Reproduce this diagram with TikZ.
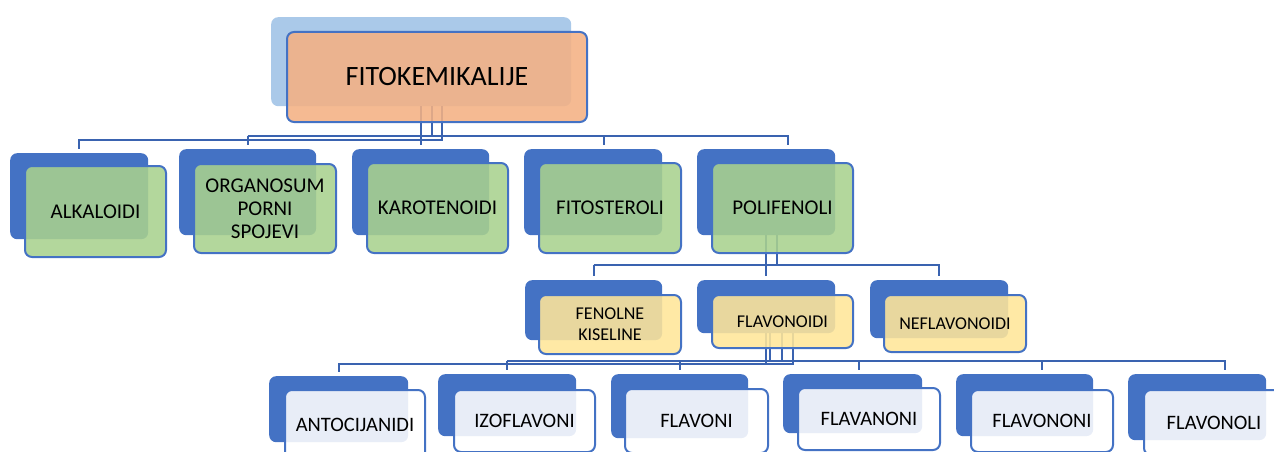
\documentclass[tikz,border=0pt]{standalone}
\usepackage{fontspec}
\setmainfont{Carlito}

\definecolor{fitoblue}{RGB}{68,114,196}
\definecolor{fitolink}{RGB}{58,99,176}
\definecolor{fitosky}{RGB}{170,201,233}
\definecolor{fitoorange}{RGB}{244,177,131}
\definecolor{fitogreen}{RGB}{169,209,142}
\definecolor{fitoyellow}{RGB}{255,230,153}

\newcommand\fitotopstyle{\fontsize{28}{34}\selectfont}
\newcommand\fitoonestyle{\fontsize{21}{23}\selectfont}
\newcommand\fitotwostyle{\fontsize{18}{21}\selectfont}
\newcommand\fitothreestyle{\fontsize{20.5}{24}\selectfont}

\newcommand\fitoback[4]{
  \node[backbox, minimum width=#3pt, minimum height=#4pt] (#1-b) at (#2) {} ;
}
\newcommand\fitofront[6]{
  \node[#5, minimum width=#3pt, minimum height=#4pt] (#1) at (#2) {#6} ;
}

\tikzset{
  backbox/.style={fill=fitoblue, rounded corners=7pt, anchor=north west, inner sep=0pt},
  frontbox/.style={draw=fitoblue, line width=2pt, rounded corners=7pt, anchor=north west,
    inner sep=0pt, align=center, fill opacity=0.88, text opacity=1},
  leveltop/.style={frontbox, fill=fitoorange, font=\fitotopstyle},
  levelone/.style={frontbox, fill=fitogreen, font=\fitoonestyle},
  leveltwo/.style={frontbox, fill=fitoyellow, font=\fitotwostyle},
  levelthree/.style={frontbox, fill=white, font=\fitothreestyle},
  link/.style={draw=fitolink, line width=2pt},
  drop/.style={link, shorten >=4pt},
}

\begin{document}
\begin{tikzpicture}[x=1pt, y=1pt]
    \useasboundingbox (0,0) rectangle (1274,-452) ;
    \node[backbox, fill=fitosky, minimum width=300pt, minimum height=89pt] (fito-b) at (271,-17) {} ;
    \fitoback{alk}{10,-153}{138}{86}
    \fitoback{org}{179,-149}{137}{86}
    \fitoback{kar}{352,-149}{137}{86}
    \fitoback{fit}{524,-149}{138}{86}
    \fitoback{pol}{697,-149}{138}{86}
    \fitoback{fen}{525,-280}{137}{60}
    \fitoback{flv}{697,-280}{138}{53}
    \fitoback{nef}{870,-280}{138}{58}
    \fitoback{ant}{269,-376}{139}{66}
    \fitoback{izo}{438,-374}{138}{62}
    \fitoback{fla}{611,-374}{137}{64}
    \fitoback{fln}{783,-374}{139}{59}
    \fitoback{flo}{956,-374}{137}{62}
    \fitoback{fll}{1128,-374}{138}{66}

    \coordinate (bushigh) at (0,-136) ;
    \coordinate (buslow) at (0,-140) ;
    \draw[drop] (fito-b.south) -- (fito-b.south |- kar-b.north) ;
    \draw[drop] ([xshift=21pt]fito-b.south) |- (buslow -| alk-b.north) -- (alk-b.north) ;
    \draw[link] ([xshift=11pt]fito-b.south) -- ([xshift=11pt]fito-b.south |- bushigh) ;
    \draw[drop] (bushigh -| org-b.north) -- (org-b.north) ;
    \draw[drop] (bushigh -| org-b.north) -- ([xshift=22pt]bushigh -| pol-b.north) -- ([xshift=22pt]pol-b.north) ;
    \draw[drop] ([xshift=11pt]bushigh -| fit-b.north) -- ([xshift=11pt]fit-b.north) ;

    \coordinate (busmid) at (0,-265) ;
    \draw[drop] (pol-b.south) -- (pol-b.south |- flv-b.north) ;
    \draw[link] ([xshift=11pt]pol-b.south) -- ([xshift=11pt]pol-b.south |- busmid) ;
    \draw[drop] (busmid -| fen-b.north) -- (fen-b.north) ;
    \draw[drop] (busmid -| fen-b.north) -- (busmid -| nef-b.north) -- (nef-b.north) ;

    \coordinate (busupper) at (0,-361) ;
    \coordinate (buslower) at (0,-364) ;
    \draw[link] (flv-b.south) -- (flv-b.south |- buslower) ;
    \draw[link] ([xshift=4pt]flv-b.south) -- ([xshift=4pt]flv-b.south |- busupper) ;
    \draw[link] ([xshift=16pt]flv-b.south) -- ([xshift=16pt]flv-b.south |- busupper) ;
    \draw[drop] ([xshift=27pt]flv-b.south) |- (buslower -| ant-b.north) -- (ant-b.north) ;
    \draw[drop] (busupper -| izo-b.north) -- (izo-b.north) ;
    \draw[drop] (busupper -| izo-b.north) -- ([xshift=28pt]busupper -| fll-b.north) -- ([xshift=28pt]fll-b.north) ;
    \draw[drop] (busupper -| fla-b.north) -- (fla-b.north) ;
    \draw[drop] ([xshift=6pt]busupper -| fln-b.north) -- ([xshift=6pt]fln-b.north) ;
    \draw[drop] ([xshift=17pt]busupper -| flo-b.north) -- ([xshift=17pt]flo-b.north) ;

    \fitofront{fito}{286,-31}{300}{90}{leveltop}{FITOKEMIKALIJE}
    \fitofront{alk}{24,-165}{141}{91}{levelone}{ALKALOIDI}
    \fitofront{org}{193,-163}{142}{89}{levelone}{ORGANOSUM\\PORNI\\SPOJEVI}
    \fitofront{kar}{366,-162}{141}{90}{levelone}{KAROTENOIDI}
    \fitofront{fit}{538,-162}{142}{90}{levelone}{FITOSTEROLI}
    \fitofront{pol}{711,-162}{141}{90}{levelone}{POLIFENOLI}
    \fitofront{fen}{538,-294}{142}{59}{leveltwo}{FENOLNE\\KISELINE}
    \fitofront{flv}{711,-294}{141}{53}{leveltwo}{FLAVONOIDI}
    \fitofront{nef}{883,-294}{142}{57}{leveltwo}{NEFLAVONOIDI}
    \fitofront{ant}{284,-389}{140}{70}{levelthree}{ANTOCIJANIDI}
    \fitofront{izo}{453,-389}{141}{62}{levelthree}{IZOFLAVONI}
    \fitofront{fla}{624,-388}{143}{64}{levelthree}{FLAVONI}
    \fitofront{fln}{797,-387}{142}{62}{levelthree}{FLAVANONI}
    \fitofront{flo}{970,-389}{142}{62}{levelthree}{FLAVONONI}
    \fitofront{fll}{1143,-389}{140}{65}{levelthree}{FLAVONOLI}
\end{tikzpicture}
\end{document}
